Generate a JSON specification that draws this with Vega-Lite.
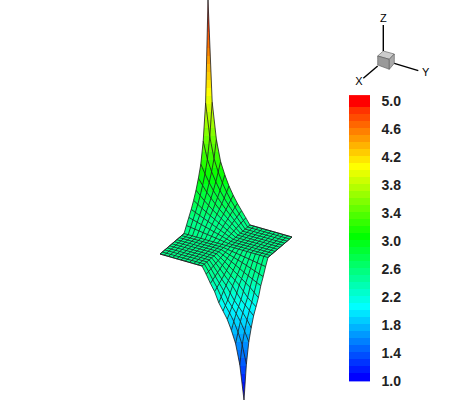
{"$schema":"https://vega.github.io/schema/vega-lite/v6.json","width":452,"height":402,"padding":0,"autosize":{"type":"none"},"background":"white","config":{"view":{"stroke":null}},
"resolve":{"scale":{"y":"independent"},"axis":{"y":"independent"}},
"layer":[
{"data":{"values":[
{"v":5.0,"y":0,"a":208,"b":208},{"v":5.0,"y":8,"a":207.8,"b":208.3},
{"v":4.95,"y":8,"a":207.8,"b":208.3},{"v":4.95,"y":16,"a":207.6,"b":208.7},
{"v":4.86,"y":16,"a":207.6,"b":208.7},{"v":4.86,"y":24,"a":207.4,"b":209},
{"v":4.76,"y":24,"a":207.4,"b":209},{"v":4.76,"y":32,"a":207.3,"b":209.3},
{"v":4.67,"y":32,"a":207.3,"b":209.3},{"v":4.67,"y":40,"a":207.1,"b":209.6},
{"v":4.57,"y":40,"a":207.1,"b":209.6},{"v":4.57,"y":48,"a":206.9,"b":210},
{"v":4.48,"y":48,"a":206.9,"b":210},{"v":4.48,"y":56,"a":206.7,"b":210.3},
{"v":4.38,"y":56,"a":206.7,"b":210.3},{"v":4.38,"y":64,"a":206.5,"b":210.6},
{"v":4.28,"y":64,"a":206.5,"b":210.6},{"v":4.28,"y":72,"a":206.3,"b":211},
{"v":4.19,"y":72,"a":206.3,"b":211},{"v":4.19,"y":80,"a":206.1,"b":211.3},
{"v":4.09,"y":80,"a":206.1,"b":211.3},{"v":4.09,"y":88,"a":205.9,"b":211.6},
{"v":4.0,"y":88,"a":205.9,"b":211.6},{"v":4.0,"y":96,"a":205.8,"b":211.9},
{"v":3.9,"y":96,"a":205.8,"b":211.9},{"v":3.9,"y":104,"a":205.5,"b":212.4},
{"v":3.81,"y":104,"a":205.5,"b":212.4},{"v":3.81,"y":112,"a":205,"b":213.3},
{"v":3.71,"y":112,"a":205,"b":213.3},{"v":3.71,"y":120,"a":204.5,"b":214.2},
{"v":3.62,"y":120,"a":204.5,"b":214.2},{"v":3.62,"y":128,"a":204,"b":215.1},
{"v":3.52,"y":128,"a":204,"b":215.1},{"v":3.52,"y":136,"a":203.5,"b":216},
{"v":3.42,"y":136,"a":203.5,"b":216},{"v":3.42,"y":144,"a":202.9,"b":217.3},
{"v":3.33,"y":144,"a":202.9,"b":217.3},{"v":3.33,"y":152,"a":202.1,"b":218.8},
{"v":3.23,"y":152,"a":202.1,"b":218.8},{"v":3.23,"y":160,"a":201.2,"b":220.3},
{"v":3.14,"y":160,"a":201.2,"b":220.3},{"v":3.14,"y":168,"a":200.2,"b":222.6},
{"v":3.04,"y":168,"a":200.2,"b":222.6},{"v":3.04,"y":176,"a":198.8,"b":225.3},
{"v":2.95,"y":176,"a":198.8,"b":225.3},{"v":2.95,"y":184,"a":197.2,"b":228.3},
{"v":2.85,"y":184,"a":197.2,"b":228.3},{"v":2.85,"y":192,"a":195.6,"b":231.7},
{"v":2.76,"y":192,"a":195.6,"b":231.7},{"v":2.76,"y":200,"a":193.7,"b":235.7},
{"v":2.66,"y":200,"a":193.7,"b":235.7},{"v":2.66,"y":208,"a":191.6,"b":240.1},
{"v":2.56,"y":208,"a":191.6,"b":240.1},{"v":2.56,"y":216,"a":189.2,"b":244.7},
{"v":2.47,"y":216,"a":189.2,"b":244.7},{"v":2.47,"y":224,"a":186.8,"b":249.4},
{"v":2.46,"y":224,"a":186.8,"b":249.4},{"v":2.46,"y":225,"a":186.5,"b":250},{"v":2.46,"y":233.5,"a":184,"b":279.75},{"v":2.46,"y":237,"a":179.9,"b":292},{"v":2.46,"y":254,"a":160,"b":272.1},{"v":2.46,"y":257.5,"a":172.25,"b":268},{"v":2.46,"y":266,"a":202,"b":265.8},{"v":2.46,"y":270,"a":204,"b":264.8},
{"v":2.41,"y":270,"a":204,"b":264.8},{"v":2.41,"y":278,"a":207.9,"b":262.8},
{"v":2.31,"y":278,"a":207.9,"b":262.8},{"v":2.31,"y":286,"a":211.7,"b":260.7},
{"v":2.22,"y":286,"a":211.7,"b":260.7},{"v":2.22,"y":294,"a":215.5,"b":259.1},
{"v":2.12,"y":294,"a":215.5,"b":259.1},{"v":2.12,"y":302,"a":218.5,"b":257.3},
{"v":2.03,"y":302,"a":218.5,"b":257.3},{"v":2.03,"y":310,"a":222.5,"b":255.1},
{"v":1.93,"y":310,"a":222.5,"b":255.1},{"v":1.93,"y":318,"a":226.6,"b":253.2},
{"v":1.84,"y":318,"a":226.6,"b":253.2},{"v":1.84,"y":326,"a":229.7,"b":251.6},
{"v":1.74,"y":326,"a":229.7,"b":251.6},{"v":1.74,"y":334,"a":232.5,"b":250.2},
{"v":1.65,"y":334,"a":232.5,"b":250.2},{"v":1.65,"y":342,"a":235.1,"b":248.8},
{"v":1.55,"y":342,"a":235.1,"b":248.8},{"v":1.55,"y":350,"a":236.9,"b":247.9},
{"v":1.46,"y":350,"a":236.9,"b":247.9},{"v":1.46,"y":358,"a":238.4,"b":247.1},
{"v":1.36,"y":358,"a":238.4,"b":247.1},{"v":1.36,"y":366,"a":239.9,"b":246.3},
{"v":1.27,"y":366,"a":239.9,"b":246.3},{"v":1.27,"y":374,"a":240.9,"b":245.7},
{"v":1.17,"y":374,"a":240.9,"b":245.7},{"v":1.17,"y":382,"a":241.9,"b":245.2},
{"v":1.08,"y":382,"a":241.9,"b":245.2},{"v":1.08,"y":390,"a":242.8,"b":244.7},
{"v":1.0,"y":390,"a":242.8,"b":244.7},{"v":1.0,"y":400,"a":244,"b":244}
]},
"mark":{"type":"area","orient":"horizontal","interpolate":"linear"},
"encoding":{
"y":{"field":"y","type":"quantitative","scale":{"domain":[402,0],"nice":false,"zero":false},"axis":null},
"x":{"field":"a","type":"quantitative","stack":null,"scale":{"domain":[0,452],"nice":false,"zero":false},"axis":null},
"x2":{"field":"b"},
"detail":{"field":"v","type":"nominal"},
"color":{"field":"v","type":"quantitative","legend":null,"scale":{"domain":[1,2,3,4,5],"range":["#0000ff","#00ffff","#00ff00","#ffff00","#ff0000"],"clamp":true,"interpolate":"rgb"}}
}},
{"data":{"values":[
{"l":"a0","x":268,"y":257.5},{"l":"a0","x":184,"y":233.5},
{"l":"b0","x":202,"y":266},{"l":"b0","x":250,"y":225},
{"l":"s10","x":292,"y":237},{"l":"s10","x":250,"y":225},{"l":"s10","x":245.8,"y":217.8},{"l":"s10","x":241.6,"y":210.6},{"l":"s10","x":237.4,"y":203.4},{"l":"s10","x":233.2,"y":195.2},{"l":"s10","x":229,"y":186},{"l":"s10","x":224.8,"y":174.8},{"l":"s10","x":220.6,"y":161.6},{"l":"s10","x":216.4,"y":139.4},{"l":"s10","x":212.2,"y":102.2},{"l":"s10","x":208,"y":0},
{"l":"s9","x":289.6,"y":239},{"l":"s9","x":247.6,"y":227},{"l":"s9","x":243.4,"y":220.4},{"l":"s9","x":239.2,"y":213.9},{"l":"s9","x":235,"y":207.2},{"l":"s9","x":230.8,"y":200},{"l":"s9","x":226.6,"y":192},{"l":"s9","x":222.4,"y":182.9},{"l":"s9","x":218.2,"y":172},{"l":"s9","x":214,"y":158.5},{"l":"s9","x":209.8,"y":136.7},{"l":"s9","x":205.6,"y":103},
{"l":"s8","x":287.2,"y":241.1},{"l":"s8","x":245.2,"y":229.1},{"l":"s8","x":241,"y":223.1},{"l":"s8","x":236.8,"y":217.1},{"l":"s8","x":232.6,"y":211.1},{"l":"s8","x":228.4,"y":204.9},{"l":"s8","x":224.2,"y":198.1},{"l":"s8","x":220,"y":190.5},{"l":"s8","x":215.8,"y":181.7},{"l":"s8","x":211.6,"y":171.7},{"l":"s8","x":207.4,"y":159.3},{"l":"s8","x":203.2,"y":141.1},
{"l":"s7","x":284.8,"y":243.2},{"l":"s7","x":242.8,"y":231.2},{"l":"s7","x":238.6,"y":225.8},{"l":"s7","x":234.4,"y":220.4},{"l":"s7","x":230.2,"y":215},{"l":"s7","x":226,"y":209.6},{"l":"s7","x":221.8,"y":203.7},{"l":"s7","x":217.6,"y":197.4},{"l":"s7","x":213.4,"y":190.6},{"l":"s7","x":209.2,"y":182.6},{"l":"s7","x":205,"y":173.8},{"l":"s7","x":200.8,"y":164.2},
{"l":"s6","x":282.4,"y":245.2},{"l":"s6","x":240.4,"y":233.2},{"l":"s6","x":236.2,"y":228.4},{"l":"s6","x":232,"y":223.6},{"l":"s6","x":227.8,"y":218.8},{"l":"s6","x":223.6,"y":214},{"l":"s6","x":219.4,"y":209.2},{"l":"s6","x":215.2,"y":203.8},{"l":"s6","x":211,"y":198.2},{"l":"s6","x":206.8,"y":192.2},{"l":"s6","x":202.6,"y":185.4},{"l":"s6","x":198.4,"y":178.2},
{"l":"s5","x":280,"y":247.2},{"l":"s5","x":238,"y":235.2},{"l":"s5","x":233.8,"y":231},{"l":"s5","x":229.6,"y":226.9},{"l":"s5","x":225.4,"y":222.7},{"l":"s5","x":221.2,"y":218.5},{"l":"s5","x":217,"y":214.2},{"l":"s5","x":212.8,"y":210},{"l":"s5","x":208.6,"y":205.4},{"l":"s5","x":204.4,"y":200.7},{"l":"s5","x":200.2,"y":195.5},{"l":"s5","x":196,"y":190.2},
{"l":"s4","x":277.6,"y":249.3},{"l":"s4","x":235.6,"y":237.3},{"l":"s4","x":227.2,"y":230.1},{"l":"s4","x":218.8,"y":222.9},{"l":"s4","x":210.4,"y":215.7},{"l":"s4","x":202,"y":208.3},{"l":"s4","x":193.6,"y":200.3},
{"l":"s3","x":275.2,"y":251.4},{"l":"s3","x":233.2,"y":239.4},{"l":"s3","x":224.8,"y":233.4},{"l":"s3","x":216.4,"y":227.4},{"l":"s3","x":208,"y":221.4},{"l":"s3","x":199.6,"y":215.4},{"l":"s3","x":191.2,"y":209.4},
{"l":"s2","x":272.8,"y":253.4},{"l":"s2","x":230.8,"y":241.4},{"l":"s2","x":209.8,"y":229.4},{"l":"s2","x":197.2,"y":222.2},{"l":"s2","x":188.8,"y":217.4},
{"l":"s1","x":270.4,"y":255.5},{"l":"s1","x":228.4,"y":243.5},{"l":"s1","x":207.4,"y":234.5},{"l":"s1","x":186.4,"y":225.5},
{"l":"t10","x":160,"y":254},{"l":"t10","x":184,"y":233.5},{"l":"t10","x":186.4,"y":225.5},{"l":"t10","x":188.8,"y":217.4},{"l":"t10","x":191.2,"y":209.4},{"l":"t10","x":193.6,"y":200.3},{"l":"t10","x":196,"y":190.2},{"l":"t10","x":198.4,"y":178.2},{"l":"t10","x":200.8,"y":164.2},{"l":"t10","x":203.2,"y":141.1},{"l":"t10","x":205.6,"y":103},{"l":"t10","x":208,"y":0},
{"l":"t9","x":164.2,"y":255.2},{"l":"t9","x":188.2,"y":234.7},{"l":"t9","x":190.6,"y":227.3},{"l":"t9","x":193,"y":219.8},{"l":"t9","x":195.4,"y":212.4},{"l":"t9","x":197.8,"y":204.3},{"l":"t9","x":200.2,"y":195.5},{"l":"t9","x":202.6,"y":185.4},{"l":"t9","x":205,"y":173.8},{"l":"t9","x":207.4,"y":159.3},{"l":"t9","x":209.8,"y":136.7},{"l":"t9","x":212.2,"y":102.2},
{"l":"t8","x":168.4,"y":256.4},{"l":"t8","x":192.4,"y":235.9},{"l":"t8","x":194.8,"y":229.1},{"l":"t8","x":197.2,"y":222.2},{"l":"t8","x":199.6,"y":215.4},{"l":"t8","x":202,"y":208.3},{"l":"t8","x":204.4,"y":200.7},{"l":"t8","x":206.8,"y":192.2},{"l":"t8","x":209.2,"y":182.6},{"l":"t8","x":211.6,"y":171.7},{"l":"t8","x":214,"y":158.5},{"l":"t8","x":216.4,"y":139.4},
{"l":"t7","x":172.6,"y":257.6},{"l":"t7","x":196.6,"y":237.1},{"l":"t7","x":199,"y":230.9},{"l":"t7","x":201.4,"y":224.6},{"l":"t7","x":203.8,"y":218.4},{"l":"t7","x":206.2,"y":212.1},{"l":"t7","x":208.6,"y":205.4},{"l":"t7","x":211,"y":198.2},{"l":"t7","x":213.4,"y":190.6},{"l":"t7","x":215.8,"y":181.7},{"l":"t7","x":218.2,"y":172},{"l":"t7","x":220.6,"y":161.6},
{"l":"t6","x":176.8,"y":258.8},{"l":"t6","x":200.8,"y":238.3},{"l":"t6","x":203.2,"y":232.7},{"l":"t6","x":205.6,"y":227},{"l":"t6","x":208,"y":221.4},{"l":"t6","x":210.4,"y":215.7},{"l":"t6","x":212.8,"y":210},{"l":"t6","x":215.2,"y":203.8},{"l":"t6","x":217.6,"y":197.4},{"l":"t6","x":220,"y":190.5},{"l":"t6","x":222.4,"y":182.9},{"l":"t6","x":224.8,"y":174.8},
{"l":"t5","x":181,"y":260},{"l":"t5","x":205,"y":239.5},{"l":"t5","x":207.4,"y":234.5},{"l":"t5","x":209.8,"y":229.4},{"l":"t5","x":212.2,"y":224.4},{"l":"t5","x":214.6,"y":219.3},{"l":"t5","x":217,"y":214.2},{"l":"t5","x":219.4,"y":209.2},{"l":"t5","x":221.8,"y":203.7},{"l":"t5","x":224.2,"y":198.1},{"l":"t5","x":226.6,"y":192},{"l":"t5","x":229,"y":186},
{"l":"t4","x":185.2,"y":261.2},{"l":"t4","x":209.2,"y":240.7},{"l":"t4","x":214,"y":231.8},{"l":"t4","x":218.8,"y":222.9},{"l":"t4","x":223.6,"y":214},{"l":"t4","x":228.4,"y":204.9},{"l":"t4","x":230.8,"y":200},{"l":"t4","x":233.2,"y":195.2},
{"l":"t3","x":189.4,"y":262.4},{"l":"t3","x":213.4,"y":241.9},{"l":"t3","x":218.2,"y":234.2},{"l":"t3","x":223,"y":226.5},{"l":"t3","x":227.8,"y":218.8},{"l":"t3","x":232.6,"y":211.1},{"l":"t3","x":237.4,"y":203.4},
{"l":"t2","x":193.6,"y":263.6},{"l":"t2","x":217.6,"y":243.1},{"l":"t2","x":229.6,"y":226.9},{"l":"t2","x":236.8,"y":217.1},{"l":"t2","x":241.6,"y":210.6},
{"l":"t1","x":197.8,"y":264.8},{"l":"t1","x":221.8,"y":244.3},{"l":"t1","x":233.8,"y":231},{"l":"t1","x":245.8,"y":217.8},
{"l":"p10","x":160,"y":254},{"l":"p10","x":202,"y":266},{"l":"p10","x":206.2,"y":274.2},{"l":"p10","x":210.4,"y":283.4},{"l":"p10","x":214.6,"y":291.6},{"l":"p10","x":218.8,"y":302.8},{"l":"p10","x":223,"y":311},{"l":"p10","x":227.2,"y":319.2},{"l":"p10","x":231.4,"y":330.4},{"l":"p10","x":235.6,"y":343.6},{"l":"p10","x":239.8,"y":364.8},{"l":"p10","x":244,"y":400},
{"l":"p9","x":162.4,"y":252},{"l":"p9","x":204.4,"y":264},{"l":"p9","x":208.6,"y":271.5},{"l":"p9","x":212.8,"y":279.8},{"l":"p9","x":217,"y":287.5},{"l":"p9","x":221.2,"y":296.8},{"l":"p9","x":225.4,"y":305.5},{"l":"p9","x":229.6,"y":313},{"l":"p9","x":233.8,"y":321.4},{"l":"p9","x":238,"y":332},{"l":"p9","x":242.2,"y":344.8},{"l":"p9","x":246.4,"y":364},
{"l":"p8","x":164.8,"y":249.9},{"l":"p8","x":206.8,"y":261.9},{"l":"p8","x":211,"y":268.7},{"l":"p8","x":215.2,"y":276.1},{"l":"p8","x":219.4,"y":283.3},{"l":"p8","x":223.6,"y":290.7},{"l":"p8","x":227.8,"y":299.9},{"l":"p8","x":232,"y":306.7},{"l":"p8","x":236.2,"y":313.5},{"l":"p8","x":240.4,"y":321.5},{"l":"p8","x":244.6,"y":331.1},{"l":"p8","x":248.8,"y":341.9},
{"l":"p7","x":167.2,"y":247.9},{"l":"p7","x":209.2,"y":259.9},{"l":"p7","x":213.4,"y":266},{"l":"p7","x":217.6,"y":272.5},{"l":"p7","x":221.8,"y":279.2},{"l":"p7","x":226,"y":285.3},{"l":"p7","x":230.2,"y":292.9},{"l":"p7","x":234.4,"y":300.5},{"l":"p7","x":238.6,"y":306.6},{"l":"p7","x":242.8,"y":312.7},{"l":"p7","x":247,"y":319.7},{"l":"p7","x":251.2,"y":327.9},
{"l":"p6","x":169.6,"y":245.8},{"l":"p6","x":211.6,"y":257.8},{"l":"p6","x":215.8,"y":263.2},{"l":"p6","x":220,"y":268.8},{"l":"p6","x":224.2,"y":274.8},{"l":"p6","x":228.4,"y":280.4},{"l":"p6","x":232.6,"y":285.8},{"l":"p6","x":236.8,"y":293},{"l":"p6","x":241,"y":299.6},{"l":"p6","x":245.2,"y":305},{"l":"p6","x":249.4,"y":310.4},{"l":"p6","x":253.6,"y":315.8},
{"l":"p5","x":172,"y":243.8},{"l":"p5","x":214,"y":255.8},{"l":"p5","x":218.2,"y":260.5},{"l":"p5","x":222.4,"y":265.2},{"l":"p5","x":226.6,"y":270.4},{"l":"p5","x":230.8,"y":275.6},{"l":"p5","x":235,"y":280.3},{"l":"p5","x":239.2,"y":285},{"l":"p5","x":243.4,"y":291.2},{"l":"p5","x":247.6,"y":297.4},{"l":"p5","x":251.8,"y":302.1},{"l":"p5","x":256,"y":306.8},
{"l":"p4","x":174.4,"y":241.7},{"l":"p4","x":216.4,"y":253.7},{"l":"p4","x":224.8,"y":261.7},{"l":"p4","x":233.2,"y":270.3},{"l":"p4","x":241.6,"y":278.7},{"l":"p4","x":250,"y":287.3},{"l":"p4","x":258.4,"y":297.7},
{"l":"p3","x":176.8,"y":239.7},{"l":"p3","x":218.8,"y":251.7},{"l":"p3","x":227.2,"y":258.3},{"l":"p3","x":235.6,"y":265.1},{"l":"p3","x":244,"y":272.3},{"l":"p3","x":252.4,"y":279.1},{"l":"p3","x":260.8,"y":285.7},
{"l":"p2","x":179.2,"y":237.6},{"l":"p2","x":221.2,"y":249.6},{"l":"p2","x":242.2,"y":262.6},{"l":"p2","x":254.8,"y":271},{"l":"p2","x":263.2,"y":276.6},
{"l":"p1","x":181.6,"y":235.6},{"l":"p1","x":223.6,"y":247.6},{"l":"p1","x":244.6,"y":257},{"l":"p1","x":265.6,"y":266.6},
{"l":"q10","x":292,"y":237},{"l":"q10","x":268,"y":257.5},{"l":"q10","x":265.6,"y":266.6},{"l":"q10","x":263.2,"y":276.6},{"l":"q10","x":260.8,"y":285.7},{"l":"q10","x":258.4,"y":297.7},{"l":"q10","x":256,"y":306.8},{"l":"q10","x":253.6,"y":315.8},{"l":"q10","x":251.2,"y":327.9},{"l":"q10","x":248.8,"y":341.9},{"l":"q10","x":246.4,"y":364},{"l":"q10","x":244,"y":400},
{"l":"q9","x":287.8,"y":235.8},{"l":"q9","x":263.8,"y":256.3},{"l":"q9","x":261.4,"y":264.7},{"l":"q9","x":259,"y":273.8},{"l":"q9","x":256.6,"y":282.4},{"l":"q9","x":254.2,"y":292.5},{"l":"q9","x":251.8,"y":302.1},{"l":"q9","x":249.4,"y":310.4},{"l":"q9","x":247,"y":319.7},{"l":"q9","x":244.6,"y":331.1},{"l":"q9","x":242.2,"y":344.8},{"l":"q9","x":239.8,"y":364.8},
{"l":"q8","x":283.6,"y":234.6},{"l":"q8","x":259.6,"y":255.1},{"l":"q8","x":257.2,"y":262.8},{"l":"q8","x":254.8,"y":271},{"l":"q8","x":252.4,"y":279.1},{"l":"q8","x":250,"y":287.3},{"l":"q8","x":247.6,"y":297.4},{"l":"q8","x":245.2,"y":305},{"l":"q8","x":242.8,"y":312.7},{"l":"q8","x":240.4,"y":321.5},{"l":"q8","x":238,"y":332},{"l":"q8","x":235.6,"y":343.6},
{"l":"q7","x":279.4,"y":233.4},{"l":"q7","x":255.4,"y":253.9},{"l":"q7","x":253,"y":260.9},{"l":"q7","x":250.6,"y":268.2},{"l":"q7","x":248.2,"y":275.8},{"l":"q7","x":245.8,"y":282.7},{"l":"q7","x":243.4,"y":291.2},{"l":"q7","x":241,"y":299.6},{"l":"q7","x":238.6,"y":306.6},{"l":"q7","x":236.2,"y":313.5},{"l":"q7","x":233.8,"y":321.4},{"l":"q7","x":231.4,"y":330.4},
{"l":"q6","x":275.2,"y":232.2},{"l":"q6","x":251.2,"y":252.7},{"l":"q6","x":248.8,"y":259},{"l":"q6","x":246.4,"y":265.4},{"l":"q6","x":244,"y":272.3},{"l":"q6","x":241.6,"y":278.7},{"l":"q6","x":239.2,"y":285},{"l":"q6","x":236.8,"y":293},{"l":"q6","x":234.4,"y":300.5},{"l":"q6","x":232,"y":306.7},{"l":"q6","x":229.6,"y":313},{"l":"q6","x":227.2,"y":319.2},
{"l":"q5","x":271,"y":231},{"l":"q5","x":247,"y":251.5},{"l":"q5","x":244.6,"y":257},{"l":"q5","x":242.2,"y":262.6},{"l":"q5","x":239.8,"y":268.7},{"l":"q5","x":237.4,"y":274.7},{"l":"q5","x":235,"y":280.3},{"l":"q5","x":232.6,"y":285.8},{"l":"q5","x":230.2,"y":292.9},{"l":"q5","x":227.8,"y":299.9},{"l":"q5","x":225.4,"y":305.5},{"l":"q5","x":223,"y":311},
{"l":"q4","x":266.8,"y":229.8},{"l":"q4","x":242.8,"y":250.3},{"l":"q4","x":238,"y":260},{"l":"q4","x":233.2,"y":270.3},{"l":"q4","x":228.4,"y":280.4},{"l":"q4","x":223.6,"y":290.7},{"l":"q4","x":221.2,"y":296.8},{"l":"q4","x":218.8,"y":302.8},
{"l":"q3","x":262.6,"y":228.6},{"l":"q3","x":238.6,"y":249.1},{"l":"q3","x":233.8,"y":257.4},{"l":"q3","x":229,"y":265.9},{"l":"q3","x":224.2,"y":274.8},{"l":"q3","x":219.4,"y":283.3},{"l":"q3","x":214.6,"y":291.6},
{"l":"q2","x":258.4,"y":227.4},{"l":"q2","x":234.4,"y":247.9},{"l":"q2","x":222.4,"y":265.2},{"l":"q2","x":215.2,"y":276.1},{"l":"q2","x":210.4,"y":283.4},
{"l":"q1","x":254.2,"y":226.2},{"l":"q1","x":230.2,"y":246.7},{"l":"q1","x":218.2,"y":260.5},{"l":"q1","x":206.2,"y":274.2},
{"l":"e1","x":184,"y":233.5},{"l":"e1","x":160,"y":254},
{"l":"e2","x":292,"y":237},{"l":"e2","x":250,"y":225},
{"l":"e3","x":202,"y":266},{"l":"e3","x":160,"y":254},
{"l":"e4","x":268,"y":257.5},{"l":"e4","x":292,"y":237}
]},
"mark":{"type":"line","stroke":"#202020","strokeWidth":0.9,"strokeOpacity":0.9},
"encoding":{
"y":{"field":"y","type":"quantitative","scale":{"domain":[402,0],"nice":false,"zero":false},"axis":null},
"x":{"field":"x","type":"quantitative","scale":{"domain":[0,452],"nice":false,"zero":false},"axis":null},
"detail":{"field":"l","type":"nominal"},
"order":{"value":null}
}},
{"data":{"values":[
{"a":0.98,"b":1.1,"v":1.0},{"a":1.1,"b":1.2,"v":1.1},{"a":1.2,"b":1.3,"v":1.2},{"a":1.3,"b":1.4,"v":1.3},{"a":1.4,"b":1.5,"v":1.4},{"a":1.5,"b":1.6,"v":1.5},{"a":1.6,"b":1.7,"v":1.6},{"a":1.7,"b":1.8,"v":1.7},{"a":1.8,"b":1.9,"v":1.8},{"a":1.9,"b":2.0,"v":1.9},
{"a":2.0,"b":2.1,"v":2.0},{"a":2.1,"b":2.2,"v":2.1},{"a":2.2,"b":2.3,"v":2.2},{"a":2.3,"b":2.4,"v":2.3},{"a":2.4,"b":2.5,"v":2.4},{"a":2.5,"b":2.6,"v":2.5},{"a":2.6,"b":2.7,"v":2.6},{"a":2.7,"b":2.8,"v":2.7},{"a":2.8,"b":2.9,"v":2.8},{"a":2.9,"b":3.0,"v":2.9},
{"a":3.0,"b":3.1,"v":3.0},{"a":3.1,"b":3.2,"v":3.1},{"a":3.2,"b":3.3,"v":3.2},{"a":3.3,"b":3.4,"v":3.3},{"a":3.4,"b":3.5,"v":3.4},{"a":3.5,"b":3.6,"v":3.5},{"a":3.6,"b":3.7,"v":3.6},{"a":3.7,"b":3.8,"v":3.7},{"a":3.8,"b":3.9,"v":3.8},{"a":3.9,"b":4.0,"v":3.9},
{"a":4.0,"b":4.1,"v":4.0},{"a":4.1,"b":4.2,"v":4.1},{"a":4.2,"b":4.3,"v":4.2},{"a":4.3,"b":4.4,"v":4.3},{"a":4.4,"b":4.5,"v":4.4},{"a":4.5,"b":4.6,"v":4.5},{"a":4.6,"b":4.7,"v":4.6},{"a":4.7,"b":4.8,"v":4.7},{"a":4.8,"b":4.9,"v":4.8},{"a":4.9,"b":5.07,"v":5.0}
]},
"mark":{"type":"rect","stroke":null},
"encoding":{
"x":{"value":349},"x2":{"value":370},
"y":{"field":"a","type":"quantitative","scale":{"domain":[0.685714,6.428571],"nice":false,"zero":false},"axis":{"orient":"right","offset":-71,"values":[1,1.4,1.8,2.2,2.6,3,3.4,3.8,4.2,4.6,5],"format":".1f","title":null,"domain":false,"ticks":false,"grid":false,"labelPadding":0,"labelOffset":1.5,"labelFont":"Liberation Sans","labelFontSize":14,"labelFontWeight":"bold","labelColor":"#222222"}},
"y2":{"field":"b"},
"color":{"field":"v","type":"quantitative","legend":null,"scale":{"domain":[1,2,3,4,5],"range":["#0000ff","#00ffff","#00ff00","#ffff00","#ff0000"],"clamp":true,"interpolate":"rgb"}}
}},
{"data":{"values":[{"y":51,"a":383.3,"b":383.3},{"y":54,"a":379.9,"b":394.3},{"y":56,"a":377.7,"b":392.4},{"y":59.3,"a":389.3,"b":389.3}]},
"mark":{"type":"area","orient":"horizontal","color":"#cccccc","stroke":"#555555","strokeWidth":0.6},
"encoding":{"y":{"field":"y","type":"quantitative","scale":{"domain":[402,0],"nice":false,"zero":false},"axis":null},"x":{"field":"a","type":"quantitative","stack":null,"scale":{"domain":[0,452],"nice":false,"zero":false},"axis":null},"x2":{"field":"b"}}},
{"data":{"values":[{"y":56,"a":377.7,"b":377.7},{"y":59.3,"a":377.7,"b":389.3},{"y":65,"a":377.7,"b":389.3},{"y":69.3,"a":389.3,"b":389.3}]},
"mark":{"type":"area","orient":"horizontal","color":"#999999","stroke":"#555555","strokeWidth":0.6},
"encoding":{"y":{"field":"y","type":"quantitative","scale":{"domain":[402,0],"nice":false,"zero":false},"axis":null},"x":{"field":"a","type":"quantitative","stack":null,"scale":{"domain":[0,452],"nice":false,"zero":false},"axis":null},"x2":{"field":"b"}}},
{"data":{"values":[{"y":54,"a":394.3,"b":394.3},{"y":59.3,"a":389.3,"b":394.3},{"y":63.3,"a":389.3,"b":394.3},{"y":69.3,"a":389.3,"b":389.3}]},
"mark":{"type":"area","orient":"horizontal","color":"#aaaaaa","stroke":"#555555","strokeWidth":0.6},
"encoding":{"y":{"field":"y","type":"quantitative","scale":{"domain":[402,0],"nice":false,"zero":false},"axis":null},"x":{"field":"a","type":"quantitative","stack":null,"scale":{"domain":[0,452],"nice":false,"zero":false},"axis":null},"x2":{"field":"b"}}},
{"data":{"values":[
{"l":"z","x":383.3,"y":51},{"l":"z","x":383.3,"y":25},
{"l":"x","x":377.7,"y":66},{"l":"x","x":363.3,"y":78.3},
{"l":"y","x":394.3,"y":63.3},{"l":"y","x":418.3,"y":70.7}
]},
"mark":{"type":"line","stroke":"#000000","strokeWidth":1.4},
"encoding":{"y":{"field":"y","type":"quantitative","scale":{"domain":[402,0],"nice":false,"zero":false},"axis":null},"x":{"field":"x","type":"quantitative","scale":{"domain":[0,452],"nice":false,"zero":false},"axis":null},"detail":{"field":"l","type":"nominal"},"order":{"value":null}}},
{"data":{"values":[{"t":"Z","x":383.3,"y":19},{"t":"X","x":359,"y":81.7},{"t":"Y","x":425.7,"y":72.7}]},
"mark":{"type":"text","font":"Liberation Sans","fontSize":11,"color":"#000000","align":"center","baseline":"middle"},
"encoding":{"y":{"field":"y","type":"quantitative","scale":{"domain":[402,0],"nice":false,"zero":false},"axis":null},"x":{"field":"x","type":"quantitative","scale":{"domain":[0,452],"nice":false,"zero":false},"axis":null},"text":{"field":"t","type":"nominal"}}}
]}
